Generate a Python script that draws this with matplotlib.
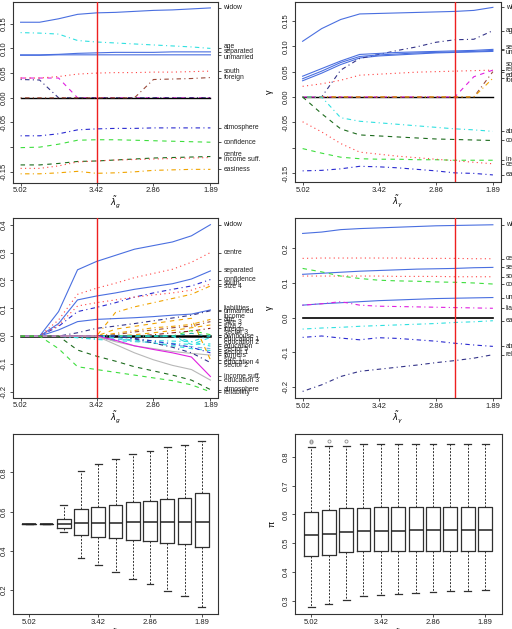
import numpy as np
import matplotlib
matplotlib.use("Agg")
import matplotlib.pyplot as plt
import matplotlib.transforms as mtransforms

plt.rcParams['font.family'] = ['Liberation Sans', 'DejaVu Sans']
plt.rcParams['mathtext.fontset'] = 'dejavusans'

# x axis: tuning parameter grid (11 steps), only some are labelled
lam_tick_idx = [0, 4, 7, 10]
lam_labels = ["5.02", "3.42", "2.86", "1.89"]

# ---- top left: paths vs lambda_g ----
tl_names = ["widow", "age", "separated", "unmarried", "south", "foreign",
            "atmosphere", "confidence", "centre", "income suff.", "easiness"]
tl_paths = [
    [0.153, 0.153, 0.160, 0.169, 0.172, 0.173, 0.175, 0.177, 0.178, 0.180, 0.182],
    [0.132, 0.131, 0.129, 0.116, 0.113, 0.111, 0.109, 0.107, 0.105, 0.103, 0.100],
    [0.087, 0.087, 0.088, 0.090, 0.091, 0.092, 0.092, 0.092, 0.093, 0.093, 0.093],
    [0.086, 0.086, 0.087, 0.087, 0.087, 0.087, 0.087, 0.087, 0.087, 0.087, 0.087],
    [0.040, 0.040, 0.043, 0.048, 0.050, 0.051, 0.051, 0.052, 0.052, 0.053, 0.054],
    [0.0, 0.0, 0.0, 0.0, 0.0, 0.0, 0.0, 0.037, 0.038, 0.039, 0.041],
    [-0.077, -0.077, -0.073, -0.065, -0.063, -0.062, -0.062, -0.061, -0.061, -0.061, -0.061],
    [-0.101, -0.100, -0.094, -0.086, -0.085, -0.085, -0.086, -0.087, -0.088, -0.089, -0.090],
    [-0.136, -0.136, -0.133, -0.129, -0.128, -0.126, -0.124, -0.122, -0.121, -0.120, -0.119],
    [-0.143, -0.143, -0.138, -0.130, -0.128, -0.126, -0.125, -0.124, -0.123, -0.122, -0.121],
    [-0.154, -0.154, -0.152, -0.149, -0.153, -0.152, -0.150, -0.147, -0.146, -0.145, -0.145],
]
tl_dropped = [
    [0.040, 0.040, 0.040, 0.0, 0.0, 0.0, 0.0, 0.0, 0.0, 0.0, 0.0],
    [0.037, 0.036, 0.0, 0.0, 0.0, 0.0, 0.0, 0.0, 0.0, 0.0, 0.0],
]
tl_zero = [0.0, 0.0, 0.0, 0.0, 0.0, 0.0, 0.0, 0.0, 0.0, 0.0, 0.0]
tl_yticks = [-0.15, -0.10, -0.05, 0.00, 0.05, 0.10, 0.15]
tl_yticklabels = ["-0.15", "", "-0.05", "0.00", "0.05", "0.10", "0.15"]

# ---- top right: paths vs lambda_gamma ----
tr_names = ["widow", "age", "separated", "unmarried", "south", "reliability",
            "education", "foreign", "atmosphere", "confidence", "income suff.",
            "centre", "easiness"]
tr_paths = [
    [0.110, 0.135, 0.153, 0.164, 0.165, 0.166, 0.167, 0.168, 0.169, 0.171, 0.177],
    [0.0, 0.0, 0.053, 0.076, 0.084, 0.092, 0.099, 0.108, 0.113, 0.114, 0.131],
    [0.041, 0.056, 0.071, 0.084, 0.086, 0.088, 0.089, 0.090, 0.091, 0.092, 0.094],
    [0.036, 0.051, 0.068, 0.080, 0.083, 0.085, 0.087, 0.088, 0.089, 0.090, 0.092],
    [0.021, 0.026, 0.033, 0.043, 0.045, 0.047, 0.049, 0.050, 0.051, 0.052, 0.053],
    [0.0, 0.0, 0.0, 0.0, 0.0, 0.0, 0.0, 0.0, 0.0, 0.040, 0.053],
    [0.0, 0.0, 0.0, 0.0, 0.0, 0.0, 0.0, 0.0, 0.0, 0.0, 0.050],
    [0.0, 0.0, 0.0, 0.0, 0.0, 0.0, 0.0, 0.0, 0.0, 0.0, 0.037],
    [0.0, 0.0, -0.041, -0.048, -0.051, -0.054, -0.057, -0.060, -0.063, -0.065, -0.068],
    [0.0, -0.033, -0.063, -0.075, -0.077, -0.079, -0.081, -0.083, -0.084, -0.085, -0.086],
    [-0.102, -0.111, -0.119, -0.122, -0.123, -0.123, -0.124, -0.124, -0.125, -0.125, -0.125],
    [-0.049, -0.069, -0.092, -0.109, -0.113, -0.117, -0.120, -0.123, -0.126, -0.129, -0.132],
    [-0.146, -0.145, -0.142, -0.137, -0.138, -0.140, -0.143, -0.146, -0.150, -0.151, -0.154],
]
tr_dropped = [
    [0.032, 0.047, 0.064, 0.077, 0.081, 0.083, 0.085, 0.087, 0.088, 0.089, 0.090],
]
tr_zero = [0.0, 0.0, 0.0, 0.0, 0.0, 0.0, 0.0, 0.0, 0.0, 0.0, 0.0]
tr_yticks = tl_yticks
tr_yticklabels = tl_yticklabels

# ---- middle left: paths vs lambda_g ----
ml_names = ["widow", "centre", "separated", "confidence", "south", "size 4",
            "liabilities", "unmarried", "income", "age", "size 3", "size 2",
            "foreign", "sector 3", "ownhouse", "education 1", "education",
            "education 2", "sector 5", "sector 1", "farmers", "size 1",
            "education 4", "sector 2", "income suff.", "education 3",
            "atmosphere", "reliability"]
ml_paths = [
    [0.0, 0.0, 0.088, 0.238, 0.268, 0.290, 0.312, 0.325, 0.338, 0.360, 0.400],
    [0.0, 0.0, 0.058, 0.150, 0.172, 0.190, 0.210, 0.225, 0.240, 0.265, 0.300],
    [0.0, 0.0, 0.045, 0.130, 0.144, 0.155, 0.168, 0.178, 0.188, 0.205, 0.234],
    [0.0, 0.0, 0.035, 0.088, 0.103, 0.120, 0.140, 0.155, 0.168, 0.180, 0.203],
    [0.0, 0.0, 0.040, 0.108, 0.120, 0.130, 0.140, 0.148, 0.155, 0.165, 0.187],
    [0.0, 0.0, 0.0, 0.0, 0.0, 0.085, 0.105, 0.120, 0.135, 0.150, 0.180],
    [0.0, 0.0, 0.022, 0.052, 0.060, 0.063, 0.066, 0.070, 0.075, 0.079, 0.094],
    [0.0, 0.0, 0.0, 0.012, 0.028, 0.036, 0.045, 0.055, 0.065, 0.075, 0.091],
    [0.0, 0.0, 0.0, 0.0, 0.0, 0.010, 0.020, 0.030, 0.035, 0.042, 0.060],
    [0.0, 0.0, 0.0, 0.0, 0.0, 0.005, 0.015, 0.022, 0.030, 0.036, 0.052],
    [0.0, 0.0, 0.0, 0.0, 0.0, 0.0, 0.005, 0.012, 0.020, 0.030, 0.040],
    [0.0, 0.0, 0.0, 0.0, 0.0, 0.0, 0.0, 0.005, 0.012, 0.018, 0.028],
    [0.0, 0.0, 0.0, 0.0, 0.0, 0.0, 0.0, 0.0, 0.0, 0.020, 0.005],
    [0.0, 0.0, 0.0, 0.0, 0.0, 0.0, 0.0, 0.0, 0.0, -0.020, 0.003],
    [0.0, 0.0, 0.0, 0.0, 0.0, 0.0, 0.0, 0.0, 0.0, 0.010, -0.002],
    [0.0, 0.0, 0.0, 0.0, 0.0, 0.0, 0.0, 0.0, 0.0, -0.030, -0.005],
    [0.0, 0.0, 0.0, -0.005, -0.010, -0.012, -0.014, -0.016, -0.018, -0.020, -0.036],
    [0.0, 0.0, 0.0, -0.006, -0.012, -0.016, -0.020, -0.023, -0.026, -0.030, -0.028],
    [0.0, 0.0, 0.0, 0.0, 0.0, -0.010, -0.018, -0.025, -0.032, -0.038, -0.045],
    [0.0, 0.0, 0.0, 0.0, 0.0, -0.005, -0.015, -0.025, -0.035, -0.045, -0.052],
    [0.0, 0.0, 0.0, 0.0, 0.0, 0.0, -0.008, -0.018, -0.028, -0.040, -0.060],
    [0.0, 0.0, 0.0, 0.0, 0.0, -0.020, -0.035, -0.045, -0.055, -0.062, -0.068],
    [0.0, 0.0, 0.0, 0.0, 0.0, 0.025, 0.035, 0.045, 0.055, 0.064, -0.085],
    [0.0, 0.0, 0.0, 0.0, 0.0, 0.0, -0.010, -0.025, -0.040, -0.060, -0.095],
    [0.0, 0.0, 0.0, 0.0, 0.0, -0.015, -0.035, -0.048, -0.060, -0.075, -0.145],
    [0.0, 0.0, 0.0, 0.0, 0.0, -0.030, -0.060, -0.085, -0.105, -0.120, -0.158],
    [0.0, 0.0, 0.0, -0.050, -0.072, -0.090, -0.110, -0.125, -0.140, -0.158, -0.192],
    [0.0, 0.0, -0.045, -0.110, -0.120, -0.130, -0.140, -0.150, -0.160, -0.175, -0.200],
]
ml_zero = [0.0, 0.0, 0.0, 0.0, 0.0, 0.0, 0.0, 0.0, 0.0, 0.0, 0.0]
ml_yticks = [-0.2, -0.1, 0.0, 0.1, 0.2, 0.3, 0.4]
ml_yticklabels = ["-0.2", "-0.1", "0.0", "0.1", "0.2", "0.3", "0.4"]

# ---- middle right: paths vs lambda_gamma ----
mr_names = ["widow", "centre", "separated", "south", "confidence", "unmarried",
            "liabilities", "easiness", "atmosphere", "reliability"]
mr_paths = [
    [0.243, 0.247, 0.254, 0.257, 0.259, 0.261, 0.263, 0.265, 0.266, 0.267, 0.268],
    [0.171, 0.172, 0.172, 0.172, 0.172, 0.172, 0.171, 0.171, 0.171, 0.170, 0.170],
    [0.125, 0.128, 0.131, 0.134, 0.136, 0.138, 0.140, 0.141, 0.142, 0.144, 0.145],
    [0.120, 0.120, 0.120, 0.120, 0.120, 0.119, 0.119, 0.119, 0.118, 0.118, 0.118],
    [0.142, 0.132, 0.120, 0.113, 0.108, 0.106, 0.105, 0.103, 0.102, 0.100, 0.097],
    [0.036, 0.040, 0.043, 0.046, 0.049, 0.051, 0.053, 0.055, 0.056, 0.057, 0.058],
    [0.036, 0.040, 0.046, 0.036, 0.033, 0.032, 0.031, 0.030, 0.029, 0.028, 0.027],
    [-0.033, -0.030, -0.028, -0.025, -0.023, -0.021, -0.019, -0.017, -0.014, -0.012, -0.009],
    [-0.057, -0.053, -0.059, -0.064, -0.058, -0.060, -0.064, -0.068, -0.074, -0.079, -0.083],
    [-0.213, -0.194, -0.170, -0.155, -0.149, -0.143, -0.137, -0.130, -0.124, -0.117, -0.107],
]
mr_zero = [0.0, 0.0, 0.0, 0.0, 0.0, 0.0, 0.0, 0.0, 0.0, 0.0, 0.0]
mr_yticks = [-0.2, -0.1, 0.0, 0.1, 0.2]
mr_yticklabels = ["-0.2", "-0.1", "0.0", "0.1", "0.2"]

# ---- bottom left: boxplots ----
bl_whislo = [0.534, 0.534, 0.498, 0.363, 0.329, 0.292, 0.256, 0.229, 0.193, 0.169, 0.112]
bl_q1 = [0.534, 0.534, 0.515, 0.481, 0.469, 0.464, 0.456, 0.449, 0.441, 0.436, 0.419]
bl_med = [0.534, 0.534, 0.534, 0.541, 0.541, 0.544, 0.546, 0.546, 0.546, 0.546, 0.549]
bl_q3 = [0.534, 0.534, 0.561, 0.612, 0.625, 0.634, 0.647, 0.654, 0.664, 0.671, 0.693]
bl_whishi = [0.534, 0.534, 0.631, 0.808, 0.844, 0.868, 0.893, 0.908, 0.927, 0.941, 0.961]
bl_fliers = [[], [], [], [], [], [], [], [], [], [], []]
bl_yticks = [0.2, 0.4, 0.6, 0.8]
bl_yticklabels = ["0.2", "0.4", "0.6", "0.8"]

# ---- bottom right: boxplots ----
br_whislo = [0.277, 0.289, 0.303, 0.315, 0.319, 0.324, 0.326, 0.330, 0.332, 0.334, 0.338]
br_q1 = [0.454, 0.459, 0.468, 0.471, 0.471, 0.472, 0.473, 0.473, 0.473, 0.473, 0.473]
br_med = [0.527, 0.531, 0.537, 0.541, 0.541, 0.542, 0.544, 0.544, 0.544, 0.544, 0.544]
br_q3 = [0.610, 0.616, 0.622, 0.622, 0.624, 0.624, 0.624, 0.624, 0.624, 0.624, 0.624]
br_whishi = [0.836, 0.839, 0.837, 0.845, 0.845, 0.845, 0.844, 0.844, 0.844, 0.844, 0.844]
br_fliers = [[0.853, 0.857], [0.855], [0.857], [], [], [], [], [], [], [], []]
br_yticks = [0.3, 0.4, 0.5, 0.6, 0.7, 0.8]
br_yticklabels = ["0.3", "0.4", "0.5", "0.6", "0.7", "0.8"]

# ---- styles ----
COL = {
    'blue': '#4a6fe0', 'red': '#ff4040', 'cyan': '#30e0e0', 'magenta': '#e020e0',
    'navy': '#333388', 'brown': '#9a4a3a', 'blue3': '#2a2ad0', 'green': '#3ede3e',
    'dkgreen': '#1d6b1d', 'orange': '#f0a400', 'gray': '#b8b8b8', 'dkred': '#8b2020',
    'ltblue': '#7fb0e8', 'teal': '#20b2aa',
}
LTY = {
    'solid': '-', 'dotted': (0, (1, 3)), 'dashed': (0, (4, 4)),
    'dotdash': (0, (1, 3, 4, 3)), 'longdash': (0, (7, 3)), 'twodash': (0, (2, 2, 6, 2)),
}
tl_styles = [('blue', 'solid'), ('cyan', 'dotdash'), ('blue', 'solid'), ('blue', 'solid'),
             ('red', 'dotted'), ('brown', 'dotdash'), ('blue3', 'dotdash'),
             ('green', 'dashed'), ('dkgreen', 'dashed'), ('red', 'dotted'),
             ('orange', 'dotdash')]
tl_dropped_styles = [('magenta', 'dashed'), ('navy', 'dotdash')]
tr_styles = [('blue', 'solid'), ('navy', 'dotdash'), ('blue', 'solid'), ('blue', 'solid'),
             ('red', 'dotted'), ('magenta', 'dashed'), ('brown', 'dotdash'),
             ('orange', 'dotdash'), ('cyan', 'dotdash'), ('dkgreen', 'dashed'),
             ('green', 'dashed'), ('red', 'dotted'), ('blue3', 'dotdash')]
tr_dropped_styles = [('blue', 'solid')]
ml_styles = [('blue', 'solid'), ('red', 'dotted'), ('blue', 'solid'), ('blue3', 'dotdash'),
             ('red', 'dotted'), ('orange', 'dotdash'), ('blue', 'solid'), ('navy', 'dotdash'),
             ('orange', 'dotdash'), ('brown', 'dotdash'), ('orange', 'dashed'),
             ('dkred', 'dotdash'), ('green', 'dashed'), ('cyan', 'dotdash'),
             ('teal', 'dashed'), ('cyan', 'dashed'), ('cyan', 'dotdash'),
             ('cyan', 'dotdash'), ('ltblue', 'dashed'), ('cyan', 'dashed'),
             ('blue3', 'dotdash'), ('gray', 'solid'), ('orange', 'dashed'),
             ('navy', 'dotdash'), ('magenta', 'solid'), ('gray', 'solid'),
             ('dkgreen', 'dashed'), ('green', 'dashed')]
mr_styles = [('blue', 'solid'), ('red', 'dotted'), ('blue', 'solid'), ('red', 'dotted'),
             ('green', 'dashed'), ('blue', 'solid'), ('magenta', 'dotdash'),
             ('cyan', 'dotdash'), ('blue3', 'dotdash'), ('navy', 'dotdash')]

W, H = 512, 629
fig = plt.figure(figsize=(W / 100, H / 100), dpi=100)
FS_TICK = 5.5
FS_LAB = 4.9
EDGE = '#333333'


def px_rect(l, t, r, b):
    return [l / W, 1 - b / H, (r - l) / W, (b - t) / H]


def style_axes(ax, rect, xticks, yticks, yticklabels, ylim, xlabel, ylabel,
               ylab_off, xlab_off=11.5):
    for s in ax.spines.values():
        s.set_color(EDGE)
        s.set_linewidth(0.8)
    ax.set_ylim(ylim)
    ax.set_xticks(xticks)
    ax.set_xticklabels(lam_labels, fontsize=FS_TICK, color='#222222')
    ax.set_yticks(yticks)
    ax.set_yticklabels(yticklabels, fontsize=FS_TICK, rotation=90, va='center',
                       color='#222222')
    ax.tick_params(length=2.3, width=0.6, color=EDGE, pad=1.2)
    wpx = rect[2] - rect[0]
    hpx = rect[3] - rect[1]
    ax.set_xlabel(xlabel, fontsize=6)
    ax.xaxis.set_label_coords(0.5, -xlab_off / hpx)
    if ylabel:
        ax.set_ylabel(ylabel, fontsize=6.5)
        ax.yaxis.set_label_coords(-ylab_off / wpx, 0.5)


def spread(vals, gap):
    vals = np.asarray(vals, float)
    order = np.argsort(-vals, kind='stable')
    pos = vals[order].copy()
    for _ in range(500):
        moved = False
        for i in range(1, len(pos)):
            d = pos[i - 1] - pos[i]
            if d < gap - 1e-12:
                sh = (gap - d) / 2
                pos[i - 1] += sh
                pos[i] -= sh
                moved = True
        if not moved:
            break
    out = np.empty_like(pos)
    out[order] = pos
    return out


def path_panel(rect, names, paths, styles, dropped, dropped_styles, zero,
               ylim, yticks, yticklabels, red_at, xlabel, ylabel=None,
               gap_px=6.0, zero_lw=1.0):
    ax = fig.add_axes(px_rect(*rect))
    n = len(paths[0])
    x = np.arange(n)
    for p, (c, ls) in zip(dropped, dropped_styles):
        ax.plot(x, p, color=COL[c], ls=LTY[ls], lw=0.8)
    ax.plot(x, zero, color='black', lw=zero_lw)
    for p, (c, ls) in zip(paths, styles):
        ax.plot(x, p, color=COL[c], ls=LTY[ls], lw=0.8)
    ax.axvline(red_at, color='#ee2020', lw=1.0, zorder=5)
    ax.set_xlim(-0.04 * (n - 1), 1.04 * (n - 1))
    style_axes(ax, rect, lam_tick_idx, yticks, yticklabels, ylim, xlabel, ylabel, 21)

    finals = [p[-1] for p in paths]
    tw = ax.twinx()
    tw.set_ylim(ylim)
    tw.set_yticks(finals)
    tw.set_yticklabels([])
    tw.tick_params(length=2.3, width=0.6, color=EDGE)
    for s in tw.spines.values():
        s.set_visible(False)
    hpx = rect[3] - rect[1]
    wpx = rect[2] - rect[0]
    gap = gap_px / hpx * (ylim[1] - ylim[0])
    ys = spread(finals, gap)
    trans = mtransforms.blended_transform_factory(ax.transAxes, ax.transData)
    for name, y in zip(names, ys):
        ax.text(1 + 5.5 / wpx, y, name, transform=trans, fontsize=FS_LAB,
                va='center', ha='left', clip_on=False, color='#222222')
    return ax


def box_panel(rect, whislo, q1, med, q3, whishi, fliers, ylim, yticks, yticklabels,
              xlabel, ylabel=None):
    ax = fig.add_axes(px_rect(*rect))
    stats = []
    for a, b, c, d, e, f in zip(whislo, q1, med, q3, whishi, fliers):
        stats.append(dict(whislo=a, q1=b, med=c, q3=d, whishi=e, fliers=f))
    n = len(stats)
    pos = np.arange(1, n + 1)
    ax.bxp(stats, positions=pos, widths=0.8, capwidths=0.4,
           boxprops=dict(color='#303030', lw=0.9),
           medianprops=dict(color='#202020', lw=1.1),
           whiskerprops=dict(color='#303030', lw=0.7, ls=(0, (2, 1.5))),
           capprops=dict(color='#303030', lw=0.9),
           flierprops=dict(marker='o', mfc='none', mec='#909090', ms=2.2, mew=0.6))
    ax.set_xlim(0.5 - 0.04 * n, n + 0.5 + 0.04 * n)
    style_axes(ax, rect, [pos[i] for i in lam_tick_idx], yticks, yticklabels, ylim,
               xlabel, ylabel, 18, xlab_off=13)
    return ax


lab_g = r'$\tilde{\lambda}_g$'
lab_gam = r'$\tilde{\lambda}_\gamma$'

path_panel((13, 2, 218, 182.5), tl_names, tl_paths, tl_styles, tl_dropped,
           tl_dropped_styles, tl_zero, (-0.1716, 0.194), tl_yticks, tl_yticklabels,
           4, lab_g, gap_px=5.5)
path_panel((295, 2, 500.5, 182), tr_names, tr_paths, tr_styles, tr_dropped,
           tr_dropped_styles, tr_zero, (-0.168, 0.1876), tr_yticks, tr_yticklabels,
           8, lab_gam, ylabel='γ', gap_px=5.5)
path_panel((13, 218, 218, 397.5), ml_names, ml_paths, ml_styles, [], [], ml_zero,
           (-0.2204, 0.424), ml_yticks, ml_yticklabels, 4, lab_g, gap_px=3.3,
           zero_lw=1.8)
path_panel((295, 217.5, 500.5, 398), mr_names, mr_paths, mr_styles, [], [], mr_zero,
           (-0.232, 0.289), mr_yticks, mr_yticklabels, 8, lab_gam, ylabel='γ',
           gap_px=5.5, zero_lw=1.2)
box_panel((13, 434, 218, 614), bl_whislo, bl_q1, bl_med, bl_q3, bl_whishi, bl_fliers,
          (0.078, 0.995), bl_yticks, bl_yticklabels, lab_g)
box_panel((295, 434, 501.5, 614), br_whislo, br_q1, br_med, br_q3, br_whishi, br_fliers,
          (0.253, 0.88), br_yticks, br_yticklabels, lab_gam, ylabel='π')

fig.savefig("out.png", dpi=100)
